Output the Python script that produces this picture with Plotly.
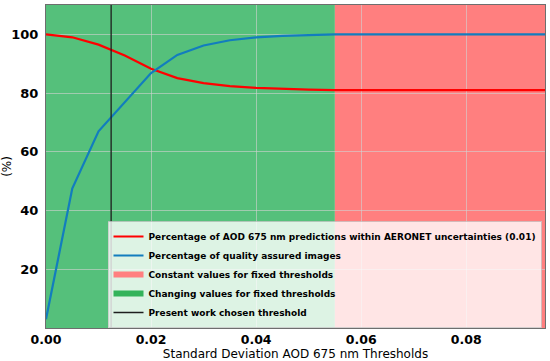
import plotly.graph_objects as go

thresholds = [0.0, 0.005, 0.01, 0.015, 0.02, 0.025, 0.03, 0.035, 0.04, 0.045, 0.05, 0.055,
              0.06, 0.065, 0.07, 0.075, 0.08, 0.085, 0.09, 0.095]
pct_within = [100.0, 99.0, 96.5, 92.8, 88.3, 85.1, 83.4, 82.4, 81.8, 81.4, 81.2, 81.0,
              81.0, 81.0, 81.0, 81.0, 81.0, 81.0, 81.0, 81.0]
pct_quality = [3.0, 47.5, 67.0, 77.0, 86.8, 93.0, 96.2, 98.0, 99.0, 99.5, 99.8, 100.0,
               100.0, 100.0, 100.0, 100.0, 100.0, 100.0, 100.0, 100.0]
chosen_threshold = 0.0124
constant_start = 0.055
x_max = 0.095
y_max = 110
y_ticks = [20, 40, 60, 80, 100]
x_ticks = [0.0, 0.02, 0.04, 0.06, 0.08]
x_ticklabels = ["0.00", "0.02", "0.04", "0.06", "0.08"]

GREEN = "rgb(85,192,123)"
RED_BG = "rgb(255,127,127)"
LINE_RED = "rgb(255,0,0)"
LINE_BLUE = "rgb(18,125,190)"

fig = go.Figure()

fig.add_shape(type="rect", xref="x", yref="y", x0=0, x1=constant_start, y0=0, y1=y_max,
              fillcolor=GREEN, line_width=0, layer="below")
fig.add_shape(type="rect", xref="x", yref="y", x0=constant_start, x1=x_max, y0=0, y1=y_max,
              fillcolor=RED_BG, line_width=0, layer="below")

fig.add_trace(go.Scatter(x=thresholds, y=pct_within, mode="lines",
                         line=dict(color=LINE_RED, width=2.2),
                         name="Percentage of AOD 675 nm predictions within AERONET uncertainties (0.01)"))
fig.add_trace(go.Scatter(x=thresholds, y=pct_quality, mode="lines",
                         line=dict(color=LINE_BLUE, width=2.2),
                         name="Percentage of quality assured images"))
fig.add_trace(go.Scatter(x=[None], y=[None], mode="none", fill="toself",
                         fillcolor="rgb(255,127,127)", name="Constant values for fixed thresholds"))
fig.add_trace(go.Scatter(x=[None], y=[None], mode="none", fill="toself",
                         fillcolor="rgb(51,179,90)", name="Changing values for fixed thresholds"))
fig.add_trace(go.Scatter(x=[chosen_threshold, chosen_threshold], y=[0, y_max], mode="lines",
                         line=dict(color="rgb(30,30,30)", width=1.3),
                         name="Present work chosen threshold"))

fig.update_layout(
    width=550, height=361,
    margin=dict(l=46, r=5, t=5, b=33),
    paper_bgcolor="white", plot_bgcolor="white",
    font=dict(family="DejaVu Sans", color="black"),
    showlegend=True,
    legend=dict(x=0.993, y=0.0, xanchor="right", yanchor="bottom",
                bgcolor="rgba(255,255,255,0.8)", bordercolor="rgba(200,200,200,0.8)",
                borderwidth=1, font=dict(size=9, family="DejaVu Sans", weight="bold"),
                tracegroupgap=0, itemwidth=30),
)
fig.update_xaxes(range=[0, x_max], tickvals=x_ticks, ticktext=x_ticklabels, automargin=False,
                 tickfont=dict(size=12.5, family="DejaVu Sans", weight="bold"),
                 title=dict(text="Standard Deviation AOD 675 nm Thresholds",
                            font=dict(size=12), standoff=3),
                 showgrid=True, gridcolor="rgba(210,210,210,0.6)", gridwidth=1,
                 zeroline=False, showline=True, linecolor="rgb(110,110,110)", linewidth=1, mirror=True,
                 ticks="", ticklabelstandoff=0)
fig.update_yaxes(range=[0, y_max], tickvals=y_ticks, automargin=False,
                 tickfont=dict(size=13, family="DejaVu Sans", weight="bold"),
                 title=dict(text="(%)", font=dict(size=12), standoff=0),
                 showgrid=True, gridcolor="rgba(210,210,210,0.6)", gridwidth=1,
                 zeroline=False, showline=True, linecolor="rgb(110,110,110)", linewidth=1, mirror=True,
                 ticks="", ticklabelstandoff=4)

fig.write_html("out.html", config={"displayModeBar": False},
               post_script="document.body.style.margin='0';document.body.style.overflow='hidden';")
